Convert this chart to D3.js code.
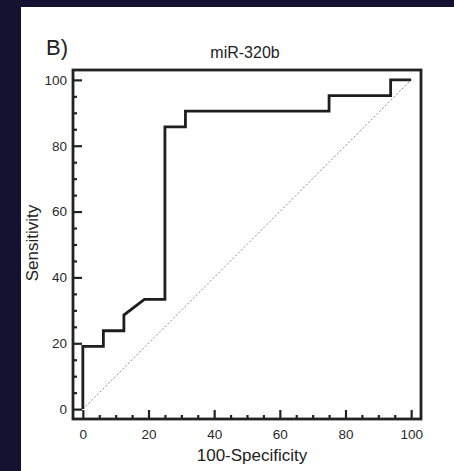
<!DOCTYPE html>
<html>
<head>
<meta charset="utf-8">
<script src="https://cdn.jsdelivr.net/npm/d3@7"></script>
<style>
  html, body { margin: 0; padding: 0; background: #131331; }
  svg { display: block; font-family: Arial, "Liberation Sans", Helvetica, sans-serif; }
</style>
</head>
<body>
<svg id="chart" width="454" height="471"></svg>
<script>
'use strict';

// ROC curve points (100-Specificity, Sensitivity)
const fpr = [0, 0, 6.25, 6.25, 12.5, 12.5, 18.75, 25, 25, 31.25, 31.25, 75, 75, 93.75, 93.75, 100];
const tpr = [0, 19.05, 19.05, 23.81, 23.81, 28.57, 33.33, 33.33, 85.71, 85.71, 90.48, 90.48, 95.24, 95.24, 100, 100];
const majorTicks = [0, 20, 40, 60, 80, 100];
const minorTicks = d3.range(0, 101, 5).filter(function(v) { return v % 20 !== 0; });
const refLine = [0, 100];

let svg = d3.select('#chart');

// white panel on dark slide
svg.append('rect')
    .attr('x', 21).attr('y', 7)
    .attr('width', 433).attr('height', 464)
    .attr('fill', '#fff');

let x = d3.scaleLinear().domain([-3, 103]).range([73, 421]);
let y = d3.scaleLinear().domain([-3, 103]).range([419, 70]);

// minor ticks
let minorY = svg.append('g').attr('transform', 'translate(73,0)')
    .call(d3.axisLeft(y).tickValues(minorTicks).tickSize(-4).tickFormat(''));
let minorX = svg.append('g').attr('transform', 'translate(0,419)')
    .call(d3.axisBottom(x).tickValues(minorTicks).tickSize(-4).tickFormat(''));

// major ticks with labels
let majorY = svg.append('g').attr('transform', 'translate(73,0)')
    .call(d3.axisLeft(y).tickValues(majorTicks).tickSize(-9).tickPadding(6));
let majorX = svg.append('g').attr('transform', 'translate(0,419)')
    .call(d3.axisBottom(x).tickValues(majorTicks).tickSize(-9).tickPadding(10));

[minorY, minorX, majorY, majorX].forEach(function(g) {
    g.select('.domain').remove();
    g.selectAll('line').attr('stroke', '#222').attr('stroke-width', 2.2);
    g.selectAll('text').attr('fill', '#2a2a2a').style('font-size', '13.5px');
});

// diagonal reference line
svg.append('line')
    .attr('x1', x(refLine[0])).attr('y1', y(refLine[0]))
    .attr('x2', x(refLine[1])).attr('y2', y(refLine[1]))
    .attr('stroke', '#8a8a8a')
    .attr('stroke-width', 1)
    .attr('stroke-dasharray', '2,2');

// ROC curve
let line = d3.line()
    .x(function(d) { return x(d[0]); })
    .y(function(d) { return y(d[1]); });

svg.append('path')
    .datum(d3.zip(fpr, tpr))
    .attr('d', line)
    .attr('fill', 'none')
    .attr('stroke', '#1e1e1e')
    .attr('stroke-width', 2.8)
    .attr('stroke-linejoin', 'miter');

// frame
svg.append('rect')
    .attr('x', x(-3)).attr('y', y(103))
    .attr('width', x(103) - x(-3))
    .attr('height', y(-3) - y(103))
    .attr('fill', 'none')
    .attr('stroke', '#222')
    .attr('stroke-width', 2.8);

// texts
svg.append('text')
    .attr('x', 46).attr('y', 55)
    .attr('fill', '#222')
    .style('font-size', '22px')
    .text('B)');

svg.append('text')
    .attr('x', 245).attr('y', 58)
    .attr('text-anchor', 'middle')
    .attr('fill', '#222')
    .style('font-size', '16px')
    .text('miR-320b');

svg.append('text')
    .attr('transform', 'translate(38,243) rotate(-90)')
    .attr('text-anchor', 'middle')
    .attr('fill', '#222')
    .style('font-size', '17px')
    .text('Sensitivity');

svg.append('text')
    .attr('x', 252).attr('y', 461)
    .attr('text-anchor', 'middle')
    .attr('fill', '#222')
    .style('font-size', '17px')
    .text('100-Specificity');
</script>
</body>
</html>
